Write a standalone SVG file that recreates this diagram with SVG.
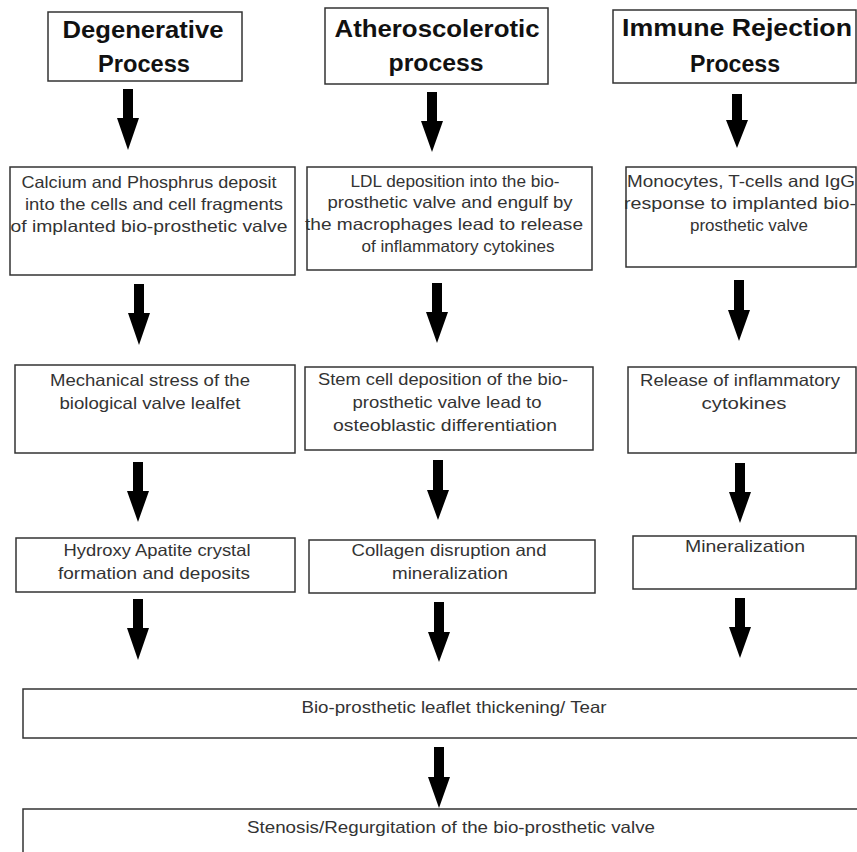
<svg xmlns="http://www.w3.org/2000/svg" width="857" height="852" viewBox="0 0 857 852">
<style>
.box{fill:#fff;stroke:#333;stroke-width:1.5}
.t{font-family:"Liberation Sans",Arial,sans-serif;font-size:16.5px;fill:#333;text-anchor:middle}
.h{font-family:"Liberation Sans",Arial,sans-serif;font-size:23px;font-weight:bold;fill:#111;text-anchor:middle}
.arrow{fill:#000}
</style>
<rect width="857" height="852" fill="#fff"/>
<g id="title-degenerative">
<rect class="box" x="48" y="12" width="194" height="69"/>
<text class="h" x="143" y="38" textLength="161" lengthAdjust="spacingAndGlyphs">Degenerative</text>
<text class="h" x="144" y="72" textLength="92" lengthAdjust="spacingAndGlyphs">Process</text>
</g>
<g id="title-atherosclerotic">
<rect class="box" x="325" y="8" width="223" height="76"/>
<text class="h" x="437" y="37" textLength="205" lengthAdjust="spacingAndGlyphs">Atheroscolerotic</text>
<text class="h" x="436" y="71" textLength="95" lengthAdjust="spacingAndGlyphs">process</text>
</g>
<g id="title-immune">
<rect class="box" x="613" y="10" width="243" height="73"/>
<text class="h" x="737" y="36" textLength="230" lengthAdjust="spacingAndGlyphs">Immune Rejection</text>
<text class="h" x="735" y="72" textLength="90" lengthAdjust="spacingAndGlyphs">Process</text>
</g>
<g id="calcium">
<rect class="box" x="10" y="167" width="285" height="108"/>
<text class="t" x="149" y="188" textLength="255" lengthAdjust="spacingAndGlyphs">Calcium and Phosphrus deposit</text>
<text class="t" x="154" y="210" textLength="258" lengthAdjust="spacingAndGlyphs">into the cells and cell fragments</text>
<text class="t" x="149" y="232" textLength="277" lengthAdjust="spacingAndGlyphs">of implanted bio-prosthetic valve</text>
</g>
<g id="ldl">
<rect class="box" x="307" y="167" width="285" height="103"/>
<text class="t" x="455" y="187" textLength="209" lengthAdjust="spacingAndGlyphs">LDL deposition into the bio-</text>
<text class="t" x="450" y="208" textLength="245" lengthAdjust="spacingAndGlyphs">prosthetic valve and engulf by</text>
<text class="t" x="444" y="230" textLength="278" lengthAdjust="spacingAndGlyphs">the macrophages lead to release</text>
<text class="t" x="458" y="252" textLength="193" lengthAdjust="spacingAndGlyphs">of inflammatory cytokines</text>
</g>
<g id="monocytes">
<rect class="box" x="626" y="167" width="230" height="100"/>
<text class="t" x="741" y="187" textLength="228" lengthAdjust="spacingAndGlyphs">Monocytes, T-cells and IgG</text>
<text class="t" x="740" y="209" textLength="232" lengthAdjust="spacingAndGlyphs">response to implanted bio-</text>
<text class="t" x="749" y="231" textLength="118" lengthAdjust="spacingAndGlyphs">prosthetic valve</text>
</g>
<g id="mechanical">
<rect class="box" x="15" y="365" width="280" height="88"/>
<text class="t" x="150" y="386" textLength="200" lengthAdjust="spacingAndGlyphs">Mechanical stress of the</text>
<text class="t" x="150" y="409" textLength="181" lengthAdjust="spacingAndGlyphs">biological valve lealfet</text>
</g>
<g id="stem-cell">
<rect class="box" x="305" y="367" width="288" height="83"/>
<text class="t" x="443" y="385" textLength="250" lengthAdjust="spacingAndGlyphs">Stem cell deposition of the bio-</text>
<text class="t" x="447" y="408" textLength="189" lengthAdjust="spacingAndGlyphs">prosthetic valve lead to</text>
<text class="t" x="445" y="431" textLength="224" lengthAdjust="spacingAndGlyphs">osteoblastic differentiation</text>
</g>
<g id="release">
<rect class="box" x="628" y="367" width="228" height="86"/>
<text class="t" x="740" y="386" textLength="200" lengthAdjust="spacingAndGlyphs">Release of inflammatory</text>
<text class="t" x="744" y="409" textLength="85" lengthAdjust="spacingAndGlyphs">cytokines</text>
</g>
<g id="hydroxy">
<rect class="box" x="16" y="538" width="279" height="54"/>
<text class="t" x="157" y="556" textLength="187" lengthAdjust="spacingAndGlyphs">Hydroxy Apatite crystal</text>
<text class="t" x="154" y="579" textLength="192" lengthAdjust="spacingAndGlyphs">formation and deposits</text>
</g>
<g id="collagen">
<rect class="box" x="309" y="540" width="286" height="53"/>
<text class="t" x="449" y="556" textLength="195" lengthAdjust="spacingAndGlyphs">Collagen disruption and</text>
<text class="t" x="450" y="579" textLength="116" lengthAdjust="spacingAndGlyphs">mineralization</text>
</g>
<g id="mineralization">
<rect class="box" x="633" y="536" width="223" height="53"/>
<text class="t" x="745" y="552" textLength="120" lengthAdjust="spacingAndGlyphs">Mineralization</text>
</g>
<g id="thickening">
<rect class="box" x="23" y="689" width="850" height="49"/>
<text class="t" x="454" y="713" textLength="305" lengthAdjust="spacingAndGlyphs">Bio-prosthetic leaflet thickening/ Tear</text>
</g>
<g id="stenosis">
<rect class="box" x="23" y="809" width="850" height="60"/>
<text class="t" x="451" y="833" textLength="408" lengthAdjust="spacingAndGlyphs">Stenosis/Regurgitation of the bio-prosthetic valve</text>
</g>
<g id="connectors">
<path class="arrow" d="M123 89H133V118H139L128 150L117 118H123Z"/>
<path class="arrow" d="M427 92H437V121H443L432 152L421 121H427Z"/>
<path class="arrow" d="M732 94H742V120H748L737 148L726 120H732Z"/>
<path class="arrow" d="M134 284H144V313H150L139 345L128 313H134Z"/>
<path class="arrow" d="M432 283H442V312H448L437 343L426 312H432Z"/>
<path class="arrow" d="M734 280H744V310H750L739 341L728 310H734Z"/>
<path class="arrow" d="M133 462H143V491H149L138 522L127 491H133Z"/>
<path class="arrow" d="M433 460H443V490H449L438 520L427 490H433Z"/>
<path class="arrow" d="M735 463H745V492H751L740 523L729 492H735Z"/>
<path class="arrow" d="M133 599H143V628H149L138 660L127 628H133Z"/>
<path class="arrow" d="M434 602H444V632H450L439 662L428 632H434Z"/>
<path class="arrow" d="M735 598H745V627H751L740 658L729 627H735Z"/>
<path class="arrow" d="M434 747H444V777H450L439 808L428 777H434Z"/>
</g>
</svg>
